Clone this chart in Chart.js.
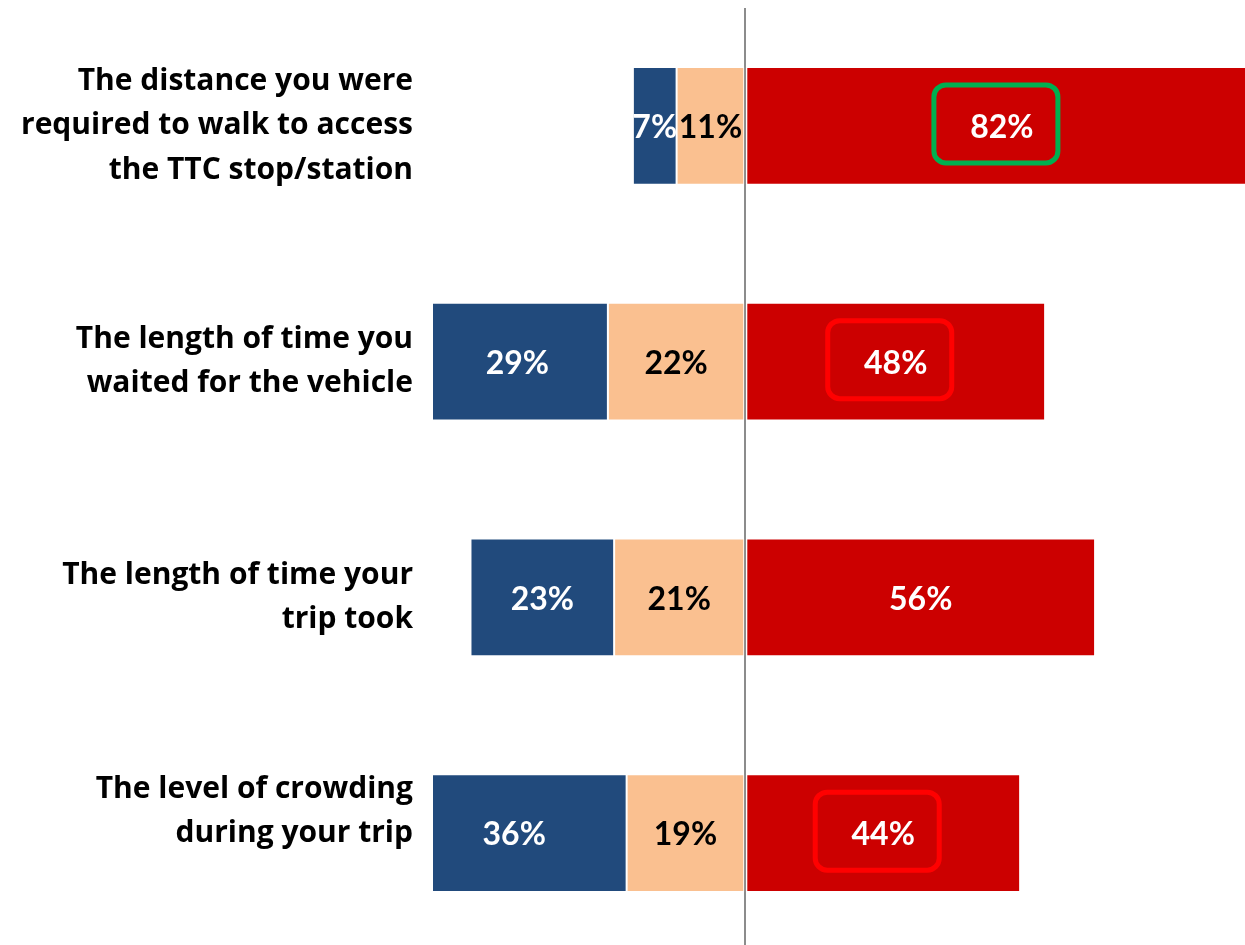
<!DOCTYPE html>
<html>
<head>
<meta charset="utf-8">
<script src="https://cdn.jsdelivr.net/npm/chart.js@4.4.1/dist/chart.umd.min.js"></script>
<style>
  html, body { margin: 0; padding: 0; background: #fff; overflow: hidden; }
  #wrap { width: 1245px; height: 945px; overflow: hidden; }
</style>
</head>
<body>
<div id="wrap"><canvas id="chart" width="1245" height="951"></canvas></div>
<script>
// survey items, top to bottom
const categories = [
    ['The distance you were', 'required to walk to access', 'the TTC stop/station'],
    ['The length of time you', 'waited for the vehicle'],
    ['The length of time your', 'trip took'],
    ['The level of crowding', 'during your trip', '']
];

// shares in percent
const dissatisfied = [7, 29, 23, 36];
const neutral = [11, 22, 21, 19];
const satisfied = [82, 48, 56, 44];

// outline colour drawn round the satisfied label, per row (null = none)
const boxColors = ['#00B050', '#FF0000', null, '#FF0000'];

const LABEL_FONT = '"Open Sans", sans-serif';
const VALUE_FONT = 'Lato, "Open Sans", sans-serif';

const valueLabels = {
    id: 'valueLabels',
    afterDraw(chart) {
        const ctx = chart.ctx;
        ctx.save();
        ctx.font = 'bold 32px ' + VALUE_FONT;
        ctx.textAlign = 'center';
        ctx.textBaseline = 'middle';
        chart.data.datasets.forEach((ds, di) => {
            const meta = chart.getDatasetMeta(di);
            meta.data.forEach((bar, i) => {
                const cx = (bar.x + bar.base) / 2;
                const cy = bar.y;
                ctx.fillStyle = ds.labelColor;
                ctx.fillText(Math.abs(ds.data[i]) + '%', cx, cy + 2);
                if (ds.boxed && boxColors[i]) {
                    const w = 124, h = 78;
                    ctx.beginPath();
                    ctx.roundRect(cx - w / 2 - 6, cy - h / 2 - 2, w, h, 12);
                    ctx.lineWidth = 5;
                    ctx.strokeStyle = boxColors[i];
                    ctx.stroke();
                }
            });
        });
        ctx.restore();
    }
};

new Chart(document.getElementById('chart'), {
    type: 'bar',
    data: {
        labels: categories,
        datasets: [
            // neutral sits next to the zero line, dissatisfied further out
            {
                label: 'Neutral',
                data: neutral.map(v => -v),
                backgroundColor: '#FAC090',
                labelColor: '#000000'
            },
            {
                label: 'Dissatisfied',
                data: dissatisfied.map(v => -v),
                backgroundColor: '#214A7C',
                labelColor: '#ffffff'
            },
            {
                label: 'Satisfied',
                data: satisfied,
                backgroundColor: '#CC0000',
                labelColor: '#ffffff',
                boxed: true
            }
        ]
    },
    options: {
        indexAxis: 'y',
        responsive: false,
        animation: false,
        layout: { padding: { top: 8, left: 0, right: 0, bottom: 0 } },
        datasets: {
            bar: {
                barPercentage: 0.5,
                categoryPercentage: 1,
                borderWidth: 1,
                borderColor: 'rgba(255,255,255,0.55)',
                borderSkipped: false
            }
        },
        plugins: {
            legend: { display: false },
            tooltip: { enabled: false }
        },
        scales: {
            x: {
                stacked: true,
                min: -50,
                max: 80,
                z: 1,
                ticks: { display: false, stepSize: 10 },
                border: { display: false },
                grid: {
                    drawTicks: false,
                    lineWidth: 2,
                    color: c => (c.tick && c.tick.value === 0 ? '#8c8c8c' : 'transparent')
                },
                afterFit(scale) { scale.height = 0; }
            },
            y: {
                stacked: true,
                border: { display: false },
                grid: { display: false, drawTicks: false },
                ticks: {
                    padding: 20,
                    color: '#000000',
                    font: { family: LABEL_FONT, size: 30, weight: 'bold', lineHeight: 1.47 }
                },
                afterFit(scale) {
                    scale.width = 433;
                    scale.paddingTop = 0;
                    scale.paddingBottom = 0;
                }
            }
        }
    },
    plugins: [valueLabels]
});
</script>
</body>
</html>
